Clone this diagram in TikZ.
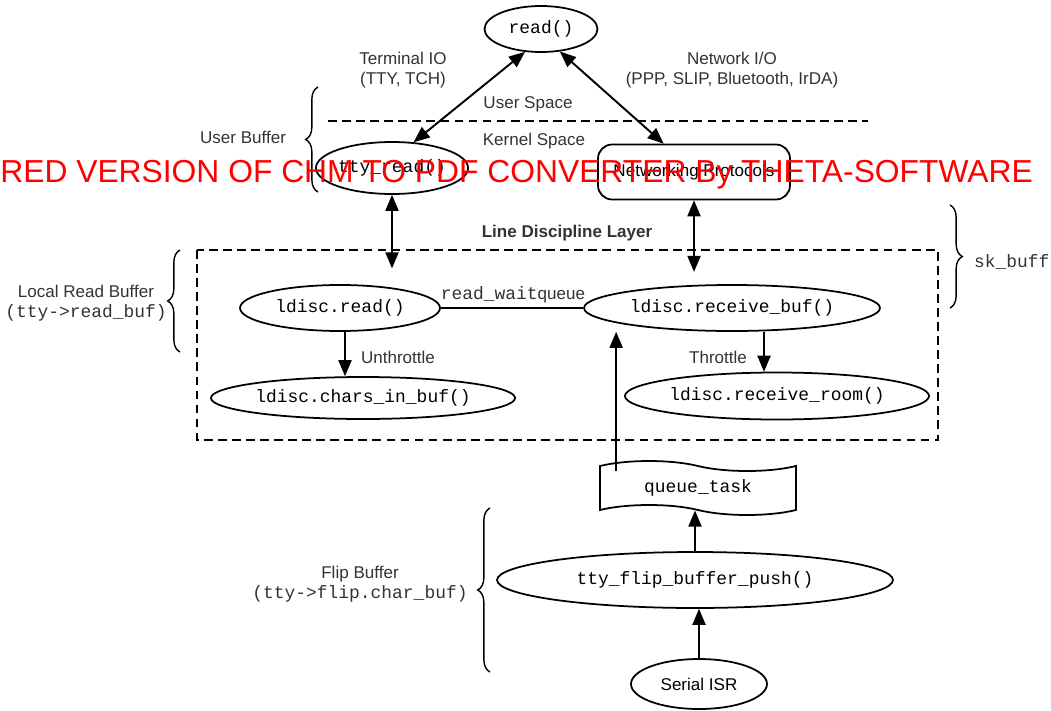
\documentclass[tikz,border=0pt]{standalone}
\usepackage{fontspec}
\setmainfont{Liberation Sans}
\setmonofont{Liberation Mono}
\usetikzlibrary{arrows,calc,shapes.geometric,shapes.symbols,decorations.pathreplacing}
\newcommand{\lblfont}{\fontsize{9.7}{11.5}\selectfont}
\newcommand{\codefont}{\fontsize{10.2}{12}\selectfont\ttfamily}
\tikzset{
	oval/.style={draw,ellipse,line width=1pt,inner sep=0pt,font=\codefont},
	lbl/.style={font=\lblfont,text=black!80,align=center},
	dbl/.style={<->,line width=1.1pt},
	sgl/.style={->,line width=1.1pt},
	brc/.style={decorate,decoration={brace,amplitude=7pt},line width=0.8pt},
	dsh/.style={line width=1pt,dash pattern=on 5pt off 3pt}
}
\begin{document}
\begin{tikzpicture}[x=0.02cm,y=-0.02cm,>=triangle 45]
	\useasboundingbox (0,0) rectangle (1051,710);
		\node[oval,minimum width=2.26cm,minimum height=0.92cm] (read) at (541,29) {read()};
		\node[oval,minimum width=2.48cm,minimum height=1.04cm] (ttyread) at (392,168) {tty\_read()};
		\node[draw,rounded corners=8pt,line width=1pt,minimum width=3.84cm,minimum height=1.1cm,font=\lblfont] (netproto) at (694,172) {Networking Protocols};
		\node[oval,minimum width=4cm,minimum height=0.92cm] (ldread) at (340,308) {ldisc.read()};
		\node[oval,minimum width=5.92cm,minimum height=0.92cm] (rbuf) at (732,308) {ldisc.receive\_buf()};
		\node[oval,minimum width=5.8cm,minimum height=0.84cm] (chars) at (363,398) {ldisc.chars\_in\_buf()};
		\node[oval,minimum width=5.92cm,minimum height=0.94cm] (room) at (777,396) {ldisc.receive\_room()};
		\node[draw,tape,tape bend top=out and in,tape bend bottom=out and in,line width=1pt,tape bend height=0.2cm,minimum width=3.92cm,minimum height=1.08cm,font=\codefont] (qtask) at (698,488) {queue\_task};
		\node[oval,minimum width=7.92cm,minimum height=1.12cm] (flip) at (695,580) {tty\_flip\_buffer\_push()};
		\node[oval,minimum width=2.72cm,minimum height=1cm,font=\lblfont] (serial) at (699,684) {Serial ISR};

		\node[lbl] (tio) at (403,70) {Terminal IO\\(TTY, TCH)};
		\node[lbl] (nio) at (732,70) {Network I/O\\(PPP, SLIP, Bluetooth, IrDA)};
		\node[lbl] (uspace) at (528,104) {User Space};
		\node[lbl] (kspace) at (534,141) {Kernel Space};
		\node[lbl,font=\lblfont\bfseries] (ldl) at (567,233) {Line Discipline Layer};
		\node[lbl] (rwq) at (513,295) {{\codefont read\_wait}queue};
		\node[lbl] (unth) at (398,357) {Unthrottle};
		\node[lbl] (thr) at (718,357) {Throttle};

		\draw[dsh] (328,121) -- (868,121);
		\draw[dsh] (197,250) rectangle (938,440);

		\coordinate (unthtop) at ($(ldread.south)+(5,0)$);
		\coordinate (thrtop) at ($(rbuf.south)+(32,0)$);
		\coordinate (qtop) at ($(qtask.north west)+(17,5)$);

		\draw[dbl] (read.235) -- (ttyread.50);
		\draw[dbl] (read.-50) -- (netproto.137);
		\draw[dbl,shorten >=9pt] (ttyread.south) -- (ttyread.south |- ldread.north);
		\draw[dbl,shorten >=7pt] (netproto.south) -- (netproto.south |- rbuf.north);
		\draw[line width=1pt] (ldread.east) -- (rbuf.west);
		\draw[sgl] (unthtop) -- (unthtop |- chars.north);
		\draw[sgl] (thrtop) -- (thrtop |- room.north);
		\draw[sgl] (qtop) -- (qtop |- rbuf.south);
		\draw[sgl] (flip.north) -- (flip.north |- qtask.south);
		\draw[sgl] (serial.north) -- (serial.north |- flip.south);

		\draw[brc] (318,192) -- (318,87);
		\node[lbl] (ubuf) at (243,137) {User Buffer};
		\draw[brc] (180,352) -- (180,250);
		\node[lbl] (lrbuf) at (86,303) {Local Read Buffer\\{\codefont (tty->read\_buf)}};
		\draw[brc] (490,672) -- (490,508);
		\node[lbl] (fbuf) at (360,584) {Flip Buffer\\{\codefont (tty->flip.char\_buf)}};
		\draw[brc] (950,205) -- (950,308);
		\node[lbl,anchor=west] (skb) at (968,262) {\codefont sk\_buff};

		\node[anchor=base west,inner sep=0pt,text=red,font=\fontsize{18.1}{20}\selectfont] (wmark) at (0,182) {RED VERSION OF CHM TO PDF CONVERTER By THETA-SOFTWARE};
	\end{tikzpicture}
\end{document}
